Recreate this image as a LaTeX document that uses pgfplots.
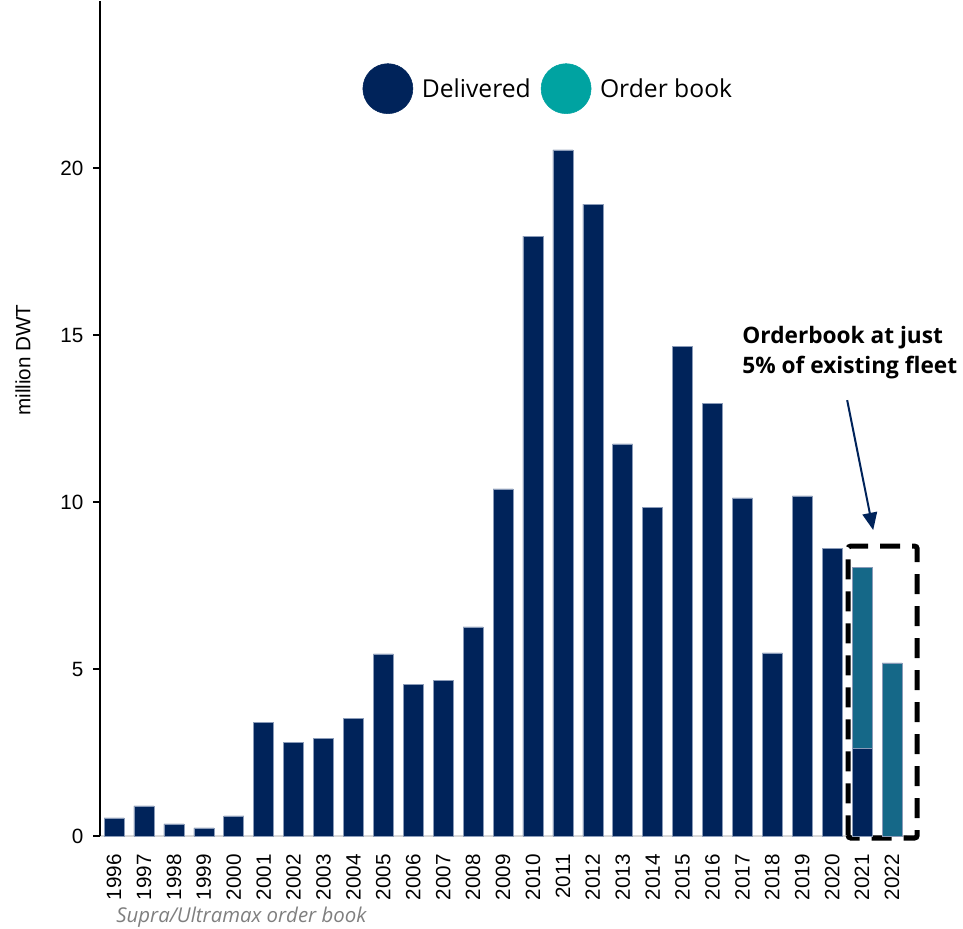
\documentclass[border=0pt]{standalone}
\usepackage{fontspec}
\setmainfont{Liberation Sans}
\newfontfamily\uifont{Open Sans}
\usepackage{pgfplots}
\pgfplotsset{compat=1.18}
\usetikzlibrary{arrows.meta}

\definecolor{navy}{HTML}{00235A}
\definecolor{obbar}{HTML}{156888}
\definecolor{obkey}{HTML}{00A3A1}
\definecolor{edge}{HTML}{8A9BB8}
\definecolor{note}{HTML}{7F7F7F}

\begin{document}
\begin{tikzpicture}[x=1pt,y=1pt]
% canvas: 1 px = 0.75 pt
\useasboundingbox (-75,-69) rectangle (647.25,627);
\begin{axis}[
  at={(0,0)}, anchor=south west,
  scale only axis,
  width=605.25pt, height=626.25pt,
  xmin=-0.47, xmax=26.5,
  ymin=0, ymax=25,
  ybar stacked,
  bar width=15pt,
  axis y line*=left,
  axis x line*=bottom,
  x axis line style={draw=black!15, line width=1.2pt, -},
  y axis line style={draw=black, line width=1.1pt, -},
  xtick={0,...,26},
  xticklabels={1996,1997,1998,1999,2000,2001,2002,2003,2004,2005,2006,2007,2008,2009,2010,2011,2012,2013,2014,2015,2016,2017,2018,2019,2020,2021,2022},
  x tick label style={rotate=90, anchor=east, font=\fontsize{15.5}{17}\selectfont, xshift=-5pt},
  xtick style={draw=none},
  ytick={0,5,10,15,20},
  y tick label style={font=\fontsize{15.5}{17}\selectfont, xshift=-4pt},
  ytick style={draw=black, line width=1.1pt},
  major tick length=5pt,
  tick align=outside,
  /pgf/number format/assume math mode=true,
  clip=false,
  legend columns=2,
  legend style={draw=none, fill=none, at={(rel axis cs:0.556,0.895)}, anchor=center,
    font=\uifont\fontsize{18.5}{20}\selectfont,
    /tikz/every even column/.append style={column sep=5.5pt},
    /tikz/every odd column/.append style={column sep=4.5pt}},
]
\addplot[fill=navy, draw=edge, line width=0.4pt,
  legend image code/.code={\fill[navy] (0pt,0pt) circle (18.75pt);}]
  coordinates {
  (0,0.54) (1,0.90) (2,0.36) (3,0.24) (4,0.60) (5,3.41) (6,2.81) (7,2.93)
  (8,3.53) (9,5.45) (10,4.55) (11,4.67) (12,6.26) (13,10.39) (14,17.96)
  (15,20.54) (16,18.92) (17,11.74) (18,9.85) (19,14.67) (20,12.96)
  (21,10.12) (22,5.48) (23,10.18) (24,8.62) (25,2.63) (26,0)};
\addlegendentry{Delivered}
\addplot[fill=obbar, draw=edge, line width=0.4pt,
  legend image code/.code={\fill[obkey] (0pt,0pt) circle (18.75pt);}]
  coordinates {
  (0,0) (1,0) (2,0) (3,0) (4,0) (5,0) (6,0) (7,0) (8,0) (9,0) (10,0)
  (11,0) (12,0) (13,0) (14,0) (15,0) (16,0) (17,0) (18,0) (19,0) (20,0)
  (21,0) (22,0) (23,0) (24,0) (25,5.42) (26,5.18)};
\addlegendentry{Order book}

% axis title
\node[rotate=90, font=\fontsize{15.5}{17}\selectfont]
  at ([xshift=-57.75pt]rel axis cs:0,0.570) {million DWT};

% highlighted forecast years
\draw[black, line width=3.8pt, dash pattern=on 15pt off 9pt, rounded corners=2pt]
  (axis cs:24.53,-0.06) rectangle (axis cs:26.84,8.68);
\draw[navy, line width=1.5pt, -{Triangle[length=13pt,width=11pt]}]
  (axis cs:24.50,13.05) -- (axis cs:25.37,9.16);
\node[anchor=north west, align=left, inner sep=0pt,
  font=\uifont\bfseries\fontsize{17}{22.5}\selectfont]
  at (axis cs:20.99,15.26) {Orderbook at just\\5\% of existing fleet};
\node[anchor=west, inner sep=0pt, text=note,
  font=\uifont\itshape\fontsize{15.3}{17}\selectfont]
  at (axis cs:0.07,-2.42) {Supra/Ultramax order book};
\end{axis}
\end{tikzpicture}
\end{document}
